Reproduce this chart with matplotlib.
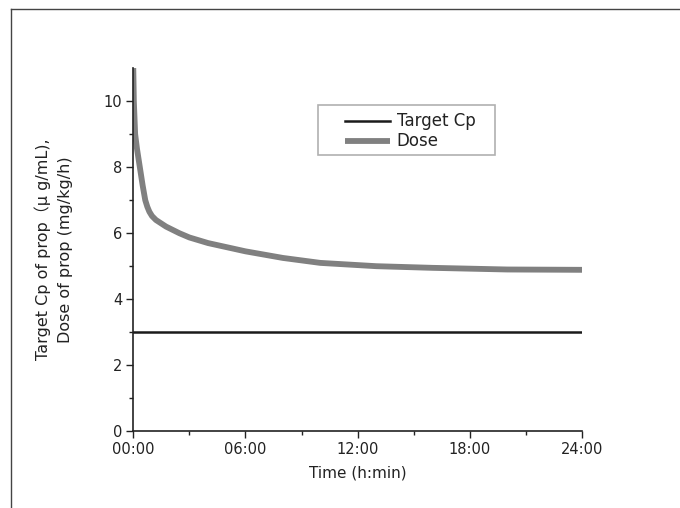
import matplotlib
matplotlib.use('Agg')
from matplotlib import pyplot as plt
from matplotlib.lines import Line2D
from matplotlib.patches import Rectangle
import numpy as np

plt.rcParams['font.family'] = ['DejaVu Sans', 'Noto Sans CJK JP']

# %% Data

time_h = [0, 0.03, 0.1, 0.2, 0.35, 0.5, 0.64, 0.75, 0.86, 1.0, 1.21, 1.75,
          2.46, 3.0, 4, 6, 8, 10, 13, 16, 20, 24]
dose = [11, 10.0, 9.0, 8.55, 8.0, 7.45, 7.0, 6.8, 6.65, 6.52, 6.4, 6.2,
        6.0, 5.87, 5.7, 5.45, 5.25, 5.1, 5.0, 4.95, 4.9, 4.89]
target_t = [0, 24]
target_cp = [3, 3]
xticks = [0, 6, 12, 18, 24]
xticklabels = ['00:00', '06:00', '12:00', '18:00', '24:00']

# %% Plot

fig = plt.figure(figsize=(6.8, 5.08), dpi=100)
ax = fig.add_axes([0.196, 0.151, 0.66, 0.715])

ax.plot(target_t, target_cp, color='#1a1a1a', lw=1.8, label='Target Cp')
ax.plot(time_h, dose, color='#808080', lw=4.2, label='Dose',
        solid_capstyle='butt', solid_joinstyle='round')

ax.set_xlim(0, 24)
ax.set_ylim(0, 11)
ax.set_xticks(xticks)
ax.set_xticklabels(xticklabels)
ax.set_xticks([3, 9, 15, 21], minor=True)
ax.set_yticks([0, 2, 4, 6, 8, 10])
ax.set_yticks([1, 3, 5, 7, 9], minor=True)
ax.tick_params(which='both', direction='out', width=1, labelsize=10.5, colors='#222222')
ax.tick_params(which='major', length=5, pad=3)
ax.tick_params(which='minor', length=3)
for s in ['top', 'right']:
    ax.spines[s].set_visible(False)
for s in ['left', 'bottom']:
    ax.spines[s].set_linewidth(1.2)
    ax.spines[s].set_color('#222222')

ax.set_xlabel('Time (h:min)', fontsize=11, labelpad=6, color='#222222')
ax.set_ylabel('Target Cp of prop（μ g/mL),\nDose of prop (mg/kg/h)', fontsize=11.5,
              linespacing=1.6, labelpad=22, color='#222222')

leg = ax.legend(loc='upper left', bbox_to_anchor=(0.472, 0.878), fontsize=12,
                frameon=False, handlelength=2.7, handletextpad=0.4,
                borderpad=0, borderaxespad=0, labelspacing=0.12)
for t in leg.get_texts():
    t.set_color('#222222')
# legend box
ax.add_patch(Rectangle((0.412, 0.760), 0.394, 0.138, transform=ax.transAxes,
                       fill=False, edgecolor='#b0b0b0', lw=1.2))

# frame around the figure (top and left edges)
fig.add_artist(Line2D([0.016, 1.0], [0.983, 0.983], color='#444444', lw=1))
fig.add_artist(Line2D([0.016, 0.016], [0.983, 0.0], color='#444444', lw=1))

plt.savefig('out.png', dpi=100)
